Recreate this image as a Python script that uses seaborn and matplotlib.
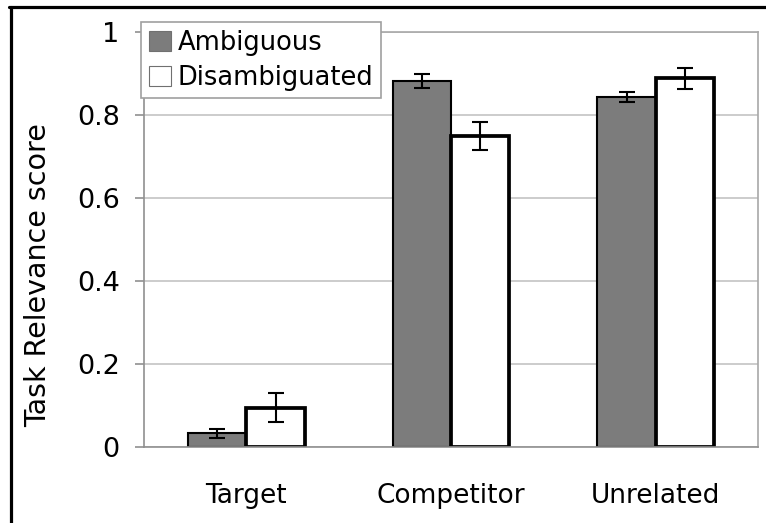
import numpy as np
import pandas as pd
import matplotlib
matplotlib.use("Agg")
import matplotlib.pyplot as plt
from matplotlib.lines import Line2D
import seaborn as sns

# values
categories = ["Target", "Competitor", "Unrelated"]
conditions = ["Ambiguous", "Disambiguated"]
ambiguous = [0.033, 0.881, 0.844]
disambiguated = [0.095, 0.749, 0.888]
ambiguous_err = [0.011, 0.017, 0.012]
disambiguated_err = [0.035, 0.034, 0.025]

df = pd.DataFrame({
    "category": categories * 2,
    "condition": [conditions[0]] * 3 + [conditions[1]] * 3,
    "score": ambiguous + disambiguated,
})

sns.set_style("white")
plt.rcParams["font.family"] = ["DejaVu Sans"]
plt.rcParams["text.color"] = "black"
plt.rcParams["axes.labelcolor"] = "black"
plt.rcParams["xtick.labelcolor"] = "black"
plt.rcParams["ytick.labelcolor"] = "black"

fig = plt.figure(figsize=(7.66, 5.23), dpi=100)
ax = fig.add_axes([0.188, 0.1453, 0.8016, 0.7935])

sns.barplot(data=df, x="category", y="score", hue="condition", order=categories,
            hue_order=conditions, palette=["#7c7c7c", "white"], width=0.57,
            edgecolor="black", errorbar=None, ax=ax)

errs = [ambiguous_err, disambiguated_err]
lws = [1.5, 2.7]
for cont, err, lw in zip(ax.containers, errs, lws):
    for p in cont.patches:
        p.set_linewidth(lw)
    xs = [p.get_x() + p.get_width() / 2 for p in cont.patches]
    ys = [p.get_height() for p in cont.patches]
    ax.errorbar(xs, ys, yerr=err, fmt="none", ecolor="black", elinewidth=1.5,
                capsize=6, capthick=1.5, zorder=5)

ax.set_ylim(0, 1)
ax.set_xlim(-0.5, 2.5)
ax.set_yticks([0, 0.2, 0.4, 0.6, 0.8, 1.0])
ax.set_yticklabels(["0", "0.2", "0.4", "0.6", "0.8", "1"])
ax.yaxis.grid(True, color="#c4c4c4", linewidth=1.2)
ax.set_axisbelow(True)
ax.set_xticks(range(len(categories)))
ax.set_xticklabels(categories)
ax.set_xticks([-0.5, 0.5, 1.5, 2.5], minor=True)
ax.tick_params(axis="x", which="major", length=0, labelsize=19, pad=26, labelcolor="black")
ax.tick_params(axis="x", which="minor", length=6, color="#909090", width=1.2)
ax.tick_params(axis="y", length=6.5, color="#909090", width=1.2, labelsize=19.5, left=True,
               pad=11, labelcolor="black")
ax.set_xlabel("")
ax.set_ylabel("Task Relevance score", fontsize=20.5, color="black")
ax.yaxis.set_label_coords(-0.150, 0.414)

for s in ["left", "bottom"]:
    ax.spines[s].set_color("#909090")
    ax.spines[s].set_linewidth(1.2)
for s in ["top", "right"]:
    ax.spines[s].set_visible(True)
    ax.spines[s].set_color("#a8a8a8")
    ax.spines[s].set_linewidth(1.2)

leg = ax.legend(loc="upper left", bbox_to_anchor=(-0.005, 1.024), fontsize=18.5,
                frameon=True, fancybox=False, edgecolor="#a0a0a0", framealpha=1,
                handlelength=0.86, handleheight=0.82, handletextpad=0.27,
                borderpad=0.3, labelspacing=0.35, borderaxespad=0, labelcolor="black")
leg.get_frame().set_linewidth(1.2)
for h in leg.legend_handles:
    h.set_linewidth(0.8)
    h.set_edgecolor("#707070")

# black border of the original scan
fig.add_artist(Line2D([0.012, 1], [0.9866, 0.9866], color="black", lw=2.3, transform=fig.transFigure))
fig.add_artist(Line2D([0.0144, 0.0144], [0, 0.9866], color="black", lw=2.3, transform=fig.transFigure))

fig.savefig("out.png", dpi=100)
